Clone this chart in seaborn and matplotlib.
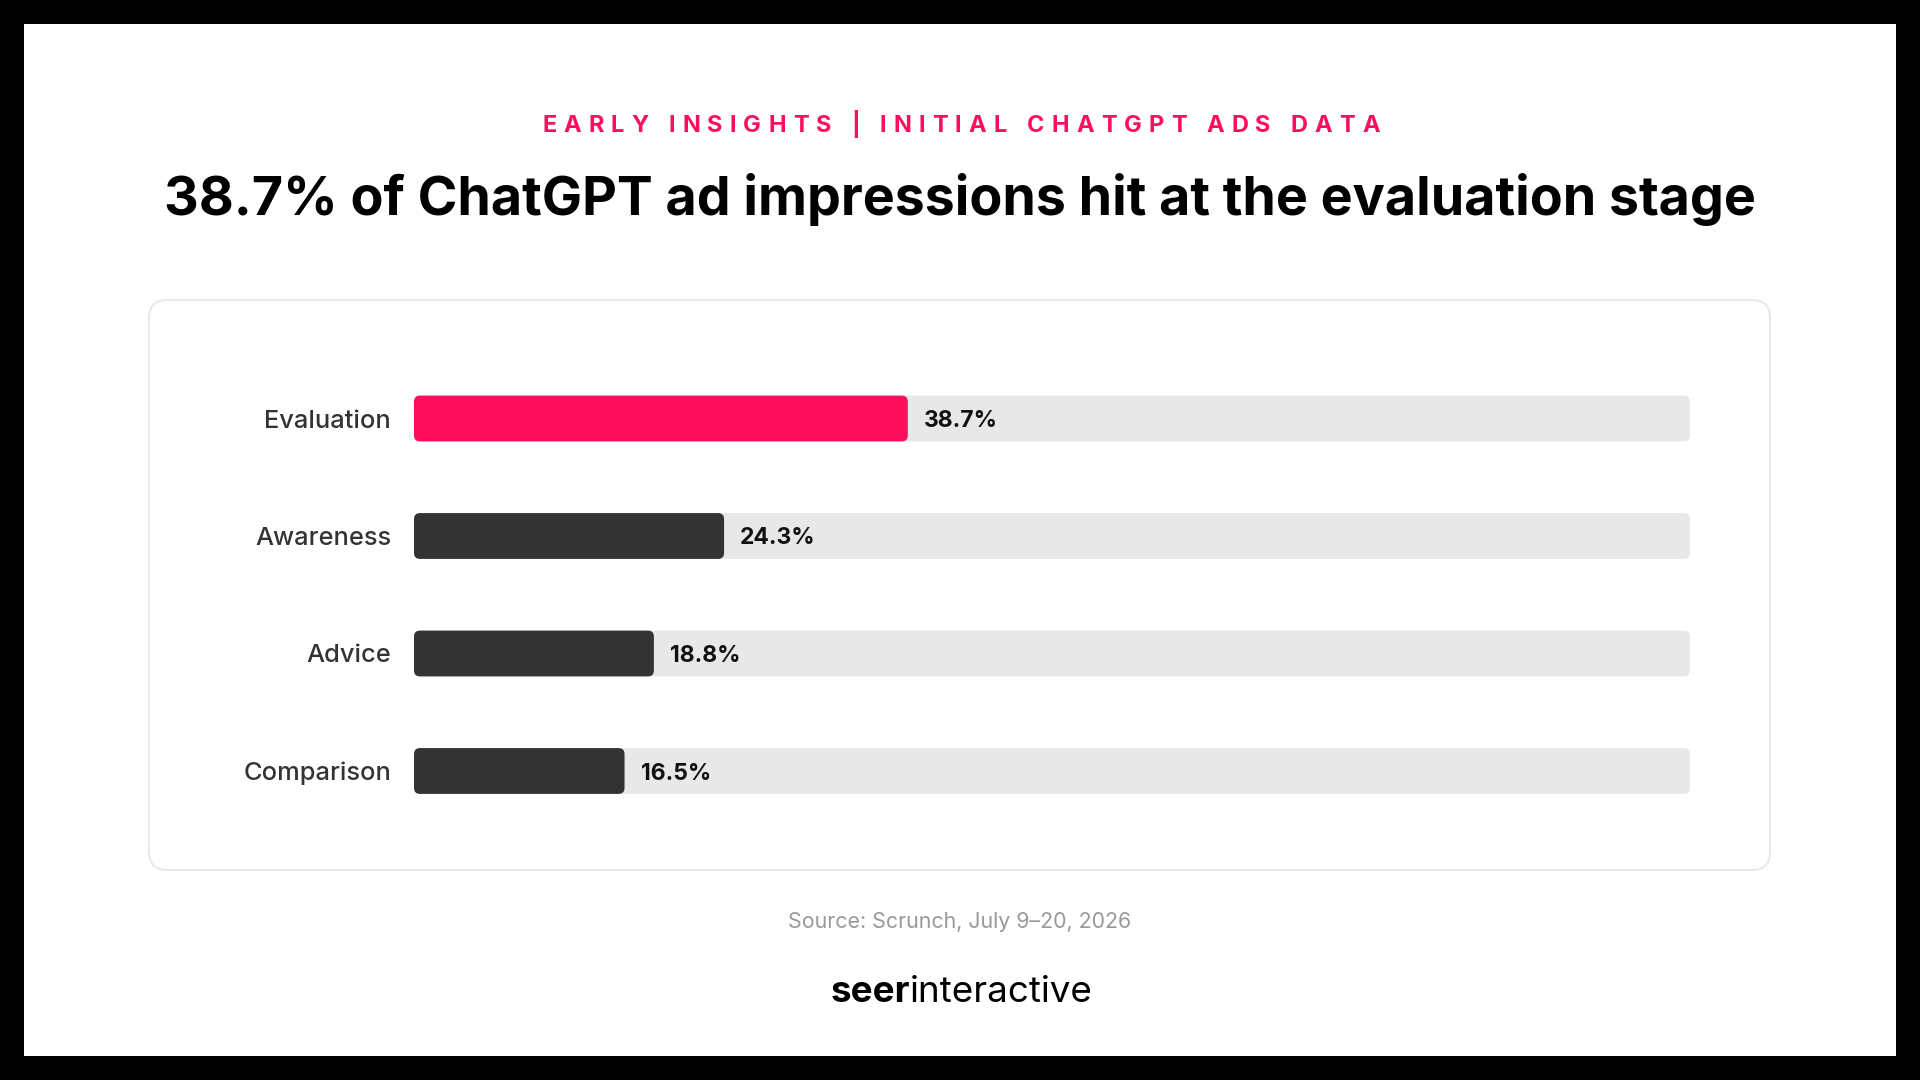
import matplotlib
matplotlib.use("Agg")
import matplotlib.pyplot as plt
from matplotlib.patches import FancyBboxPatch, Rectangle
import seaborn as sns
import pandas as pd

# data
stages = ["Evaluation", "Awareness", "Advice", "Comparison"]
shares = [38.7, 24.3, 18.8, 16.5]
track = [100, 100, 100, 100]
bar_colors = ["#FF0E5E", "#333333", "#333333", "#333333"]

kicker = "EARLY INSIGHTS | INITIAL CHATGPT ADS DATA"
title = "38.7% of ChatGPT ad impressions hit at the evaluation stage"
source = "Source: Scrunch, July 9\u201320, 2026"

sns.set_theme(style="white")
plt.rcParams["font.family"] = ["Inter", "DejaVu Sans"]

W, H = 1920, 1080
fig = plt.figure(figsize=(19.2, 10.8), dpi=100, facecolor="black")

# background layer in pixel coordinates (y down)
bg = fig.add_axes([0, 0, 1, 1])
bg.set_xlim(0, W)
bg.set_ylim(H, 0)
bg.axis("off")
bg.add_patch(Rectangle((24, 24), 1872, 1032, facecolor="white", edgecolor="none"))
bg.add_patch(FancyBboxPatch((149, 300), 1621, 570,
                            boxstyle="round,pad=0,rounding_size=18",
                            facecolor="white", edgecolor="#E8E8E8", linewidth=1.5))

# letter-spaced kicker
renderer = fig.canvas.get_renderer()
kick_kw = dict(fontsize=17, fontweight="bold", color="#FF0E5E", va="baseline", ha="left")


def text_width(s):
    t = bg.text(0, 0, s, **kick_kw)
    w = t.get_window_extent(renderer).width
    t.remove()
    return w


space_w = text_width("E E") - text_width("EE")
widths = [space_w if c == " " else text_width(c) for c in kicker]
k_left, k_right = 542, 1380
tracking = (k_right - k_left - sum(widths)) / (len(kicker) - 1)
x = k_left
for c, w in zip(kicker, widths):
    if c != " ":
        bg.text(x, 132, c, **kick_kw)
    x += w + tracking

bg.text(W / 2, 215, title, fontsize=38.7, fontweight="bold", color="black",
        ha="center", va="baseline")
bg.text(W / 2, 928, source, fontsize=15.4, color="#999999", ha="center", va="baseline")
bg.text(910, 1002, "seer", fontsize=26.5, fontweight="bold", color="black",
        ha="right", va="baseline")
bg.text(910, 1002, "interactive", fontsize=26.5, color="black", ha="left", va="baseline")

# bar chart
df = pd.DataFrame({"stage": stages, "share": shares, "track": track})
ax = fig.add_axes([414 / W, 1 - 829.75 / H, 1276 / W, 470 / H])
ax.patch.set_alpha(0)
sns.barplot(data=df, x="track", y="stage", color="#E8E8E8", width=0.39,
            saturation=1, ax=ax)
sns.barplot(data=df, x="share", y="stage", hue="stage", palette=bar_colors,
            width=0.39, saturation=1, legend=False, ax=ax)
ax.set_xlim(0, 100)
ax.set_ylim(3.5, -0.5)

for cont in ax.containers[1:]:
    labels = ax.bar_label(cont, fmt="%.1f%%", padding=11.5, fontsize=16.5,
                          fontweight="bold", color="#111111")
    for t in labels:
        t.set_va("center_baseline")

# round the bar corners
x_per_px = 100 / 1276
y_per_px = 4 / 470
for p in list(ax.patches):
    bx, by = p.get_x(), p.get_y()
    bw, bh = p.get_width(), p.get_height()
    fc = p.get_facecolor()
    p.remove()
    ax.add_patch(FancyBboxPatch((bx, by), bw, bh,
                                boxstyle=f"round,pad=0,rounding_size={6 * x_per_px}",
                                mutation_aspect=y_per_px / x_per_px,
                                facecolor=fc, edgecolor="none"))

ax.set_xlabel("")
ax.set_ylabel("")
ax.set_xticks([])
ax.tick_params(axis="y", length=0, pad=16.5, labelsize=18.3, labelcolor="#333333")
for t in ax.get_yticklabels():
    t.set_fontweight("medium")
sns.despine(ax=ax, left=True, bottom=True)

fig.savefig("out.png", dpi=100, facecolor="black")
